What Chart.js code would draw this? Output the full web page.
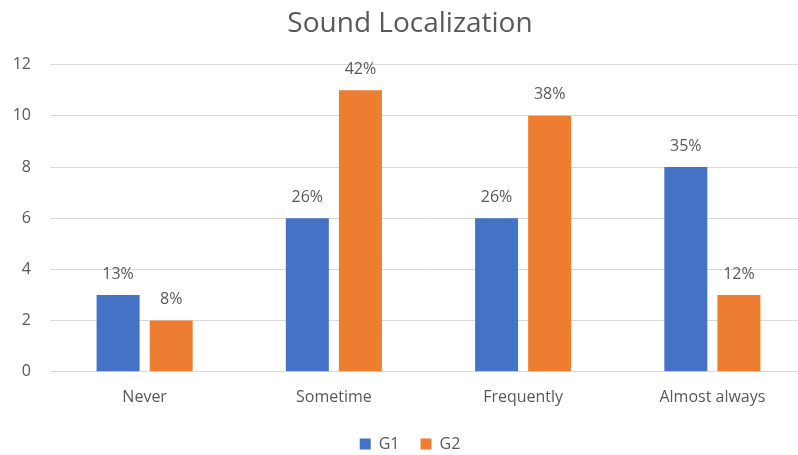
<!DOCTYPE html>
<html>
<head>
<meta charset="utf-8">
<script src="https://cdn.jsdelivr.net/npm/chart.js@4"></script>
<style>
html,body{margin:0;padding:0;background:#fff;overflow:hidden;}
#wrap{width:798px;height:455px;position:relative;overflow:hidden;}
#c{position:absolute;left:0;top:0;}
</style>
</head>
<body>
<div id="wrap"><canvas id="c" width="820" height="455"></canvas></div>
<script>
const categories = ["Never", "Sometime", "Frequently", "Almost always"];
const g1Values = [3, 6, 6, 8];
const g2Values = [2, 11, 10, 3];
const g1Labels = ["13%", "26%", "26%", "35%"];
const g2Labels = ["8%", "42%", "38%", "12%"];
const yTicks = [0, 2, 4, 6, 8, 10, 12];

const FONT = "'Open Sans', sans-serif";
const TXT = "#595959";

const barLabels = {
  id: "barLabels",
  afterDatasetsDraw(chart) {
    const ctx = chart.ctx;
    ctx.save();
    ctx.font = "16px " + FONT;
    ctx.fillStyle = TXT;
    ctx.textAlign = "center";
    ctx.textBaseline = "bottom";
    chart.data.datasets.forEach((ds, i) => {
      const meta = chart.getDatasetMeta(i);
      meta.data.forEach((bar, j) => {
        ctx.fillText(ds.pctLabels[j], bar.x, bar.y - 13);
      });
    });
    ctx.restore();
  }
};

new Chart(document.getElementById("c"), {
  type: "bar",
  data: {
    labels: categories,
    datasets: [
      { label: "G1", data: g1Values, pctLabels: g1Labels, backgroundColor: "#4472C4" },
      { label: "G2", data: g2Values, pctLabels: g2Labels, backgroundColor: "#ED7D31" }
    ]
  },
  options: {
    responsive: false,
    animation: false,
    devicePixelRatio: 1,
    layout: { padding: { left: 13, right: 13, top: 0, bottom: -7 } },
    datasets: { bar: { categoryPercentage: 0.561, barPercentage: 0.81 } },
    plugins: {
      title: {
        display: true,
        text: "Sound Localization",
        color: TXT,
        font: { family: FONT, size: 28, weight: "normal" },
        padding: { top: 7, bottom: 24 }
      },
      legend: {
        position: "bottom",
        fullSize: true,
        labels: {
          color: TXT,
          font: { family: FONT, size: 16 },
          boxWidth: 11,
          boxHeight: 11,
          padding: 21
        }
      },
      tooltip: { enabled: false }
    },
    scales: {
      x: {
        grid: { display: false },
        border: { color: "#d9d9d9" },
        ticks: { color: TXT, font: { family: FONT, size: 16 }, padding: 8 }
      },
      y: {
        min: 0, max: 12,
        afterBuildTicks(axis) { axis.ticks = yTicks.map(v => ({ value: v })); },
        afterFit(axis) { axis.width = 37; },
        grid: { color: "#d9d9d9", drawTicks: false },
        border: { display: false },
        ticks: { color: TXT, font: { family: FONT, size: 16 }, padding: 19 }
      }
    }
  },
  plugins: [barLabels]
});
</script>
</body>
</html>
